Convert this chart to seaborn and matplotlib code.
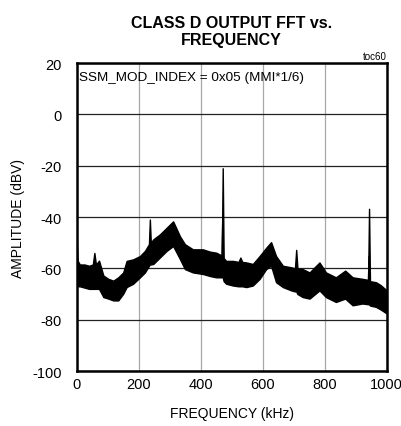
import pandas as pd
import numpy as np
import matplotlib
matplotlib.use("Agg")
import matplotlib.pyplot as plt
import seaborn as sns

sns.set_style("white")
plt.rcParams["font.family"] = ["Liberation Sans", "DejaVu Sans"]
plt.rcParams["font.size"] = 10
plt.rcParams["axes.unicode_minus"] = False
plt.rcParams["text.color"] = "black"
plt.rcParams["axes.labelcolor"] = "black"
plt.rcParams["xtick.color"] = "black"
plt.rcParams["ytick.color"] = "black"

# spectrum envelope (kHz, dBV)
freq = [0, 3, 10, 25, 40, 52, 57, 62, 72, 86,
        102, 118, 134, 150, 161, 182, 204, 220, 233, 236,
        239, 247, 268, 290, 311, 333, 349, 375, 407, 430,
        450, 468, 471, 474, 482, 504, 522, 528, 534, 547,
        568, 590, 611, 627, 643, 665, 692, 704, 708, 712,
        729, 751, 783, 804, 836, 866, 890, 922, 940, 943,
        946, 965, 980, 1000]
upper = [-49, -57, -58.5, -58.5, -59, -58.5, -54, -58.5, -57, -62.8,
         -64.1, -64.8, -63.5, -61.6, -57.1, -56.5, -55.2, -53.2, -50.6, -41,
         -50, -48.7, -46.8, -44.2, -41.7, -47.5, -50.6, -52.6, -52.6, -53.5,
         -53.9, -55, -21, -56, -57.1, -57.1, -57.5, -55.8, -57.5, -57.7,
         -58.3, -55.2, -52, -49.8, -55.2, -59, -59.6, -60, -52.8, -60,
         -60.3, -61.6, -57.7, -61.6, -63.5, -60.9, -63.5, -64.1, -64.5, -36.8,
         -65, -65.4, -66.5, -68.6]
lower = [-66, -67, -67, -67.5, -68, -68, -68, -68, -68, -71.2,
         -71.8, -72.5, -72.5, -69.9, -67.3, -66, -63.5, -61.6, -59, -58.5,
         -58.5, -58.3, -55.8, -53.2, -51.3, -56.4, -60.3, -61.6, -62.2, -63,
         -63.5, -63.5, -63.5, -65, -66, -66.7, -67, -67, -67, -67.3,
         -66.7, -64.1, -60.3, -59, -65.4, -67.3, -68.6, -69, -69, -70,
         -71.2, -71.8, -68.6, -71.2, -73.1, -71.8, -74.4, -73.7, -74, -74,
         -74.5, -75, -76, -77.6]

x_ticks = [0, 200, 400, 600, 800, 1000]
y_ticks = [-100, -80, -60, -40, -20, 0, 20]

df = pd.DataFrame({"freq": freq + freq, "amp": upper + lower})

fig = plt.figure(figsize=(4.02, 4.27), dpi=100)
ax = fig.add_axes([0.1908, 0.1288, 0.7712, 0.7213])

# min/max band between the two envelopes
sns.lineplot(
    data=df,
    x="freq",
    y="amp",
    estimator="mean",
    errorbar=("pi", 100),
    color="black",
    linewidth=1,
    err_kws={"alpha": 1, "linewidth": 1.0, "edgecolor": "black"},
    ax=ax,
)

ax.set_xlim(0, 1000)
ax.set_ylim(-100, 20)
ax.set_xticks(x_ticks)
ax.set_yticks(y_ticks)
ax.xaxis.grid(True, color="#a8a8a8", linewidth=0.9)
ax.yaxis.grid(True, color="#222222", linewidth=0.9)
ax.set_axisbelow(True)
for side in ax.spines.values():
    side.set_linewidth(1.8)
    side.set_color("black")
ax.tick_params(axis="both", length=0, labelsize=10.5)
ax.tick_params(axis="y", pad=11)
ax.tick_params(axis="x", pad=4)

ax.set_xlabel("FREQUENCY (kHz)", fontsize=10, labelpad=11)
ax.set_ylabel("AMPLITUDE (dBV)", fontsize=10, labelpad=5)
ax.set_title("CLASS D OUTPUT FFT vs.\nFREQUENCY", fontsize=11.5,
             fontweight="bold", pad=14, linespacing=1.15)

ax.text(0.008, 0.975, "SSM_MOD_INDEX = 0x05 (MMI*1/6)", transform=ax.transAxes,
        fontsize=9.7, ha="left", va="top")
ax.text(1.0, 1.006, "toc60", transform=ax.transAxes, fontsize=7,
        ha="right", va="bottom")

fig.savefig("out.png", dpi=100)
